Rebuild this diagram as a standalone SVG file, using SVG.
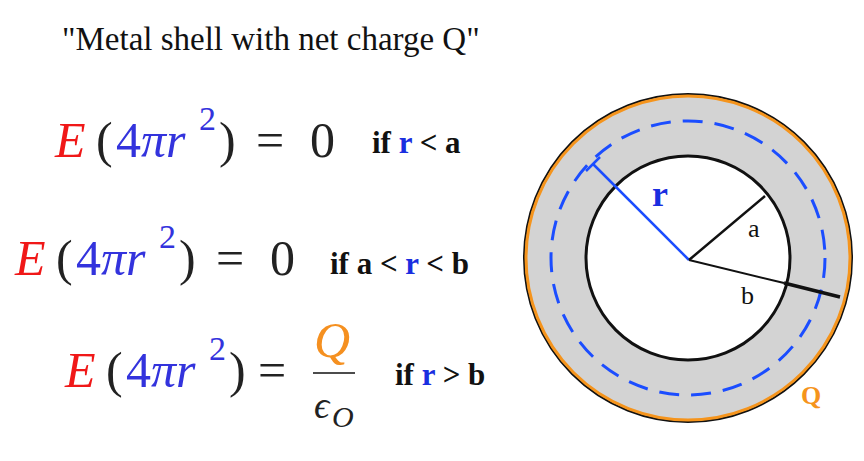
<svg xmlns="http://www.w3.org/2000/svg" width="864" height="461" viewBox="0 0 864 461">
<style>
text{font-family:"Liberation Serif","DejaVu Serif",serif}
.m{font-size:50px}
.s{font-size:34px}
.e{fill:#f01818;font-style:italic}
.b{fill:#3333dd}
.i{fill:#3333dd;font-style:italic}
.k{fill:#222}
.c{font-size:31px;font-weight:bold;fill:#111}
.bl{fill:#1a2ee0}
</style>
<rect width="864" height="461" fill="#fff"/>
<text x="62" y="50" font-size="33" fill="#111">"Metal shell with net charge Q"</text>
<g id="eq1">
<text x="55" y="157" class="m e">E</text>
<text x="96" y="157" class="m k">(</text>
<text x="116" y="157" class="m b">4</text>
<text x="141" y="157" class="m i">πr</text>
<text x="199" y="130" class="s b">2</text>
<text x="219" y="157" class="m k">)</text>
<text x="256" y="157" class="m k">=</text>
<text x="310" y="157" class="m k">0</text>
<text x="372" y="153" class="c">if <tspan class="bl">r</tspan> &lt; a</text>
</g>
<g id="eq2">
<text x="15" y="275" class="m e">E</text>
<text x="56" y="275" class="m k">(</text>
<text x="76" y="275" class="m b">4</text>
<text x="101" y="275" class="m i">πr</text>
<text x="159" y="248" class="s b">2</text>
<text x="179" y="275" class="m k">)</text>
<text x="216" y="275" class="m k">=</text>
<text x="270" y="275" class="m k">0</text>
<text x="330" y="274" class="c">if a &lt; <tspan class="bl">r</tspan> &lt; b</text>
</g>
<g id="eq3">
<text x="65" y="387" class="m e">E</text>
<text x="106" y="387" class="m k">(</text>
<text x="126" y="387" class="m b">4</text>
<text x="151" y="387" class="m i">πr</text>
<text x="209" y="360" class="s b">2</text>
<text x="229" y="387" class="m k">)</text>
<text x="258" y="387" class="m k">=</text>
<text x="314" y="357" class="m" fill="#f59020" font-style="italic">Q</text>
<line x1="313" y1="373" x2="355" y2="373" stroke="#111" stroke-width="1.5"/>
<text x="314" y="418" class="k" font-style="italic" font-size="38">ϵ</text>
<text x="332" y="427" class="k" font-style="italic" font-size="30">O</text>
<text x="395" y="385" class="c">if <tspan class="bl">r</tspan> &gt; b</text>
</g>
<g id="shell">
<circle cx="688" cy="258" r="164" fill="#d3d3d3" stroke="#111" stroke-width="2"/>
<circle cx="688" cy="258" r="162" fill="none" stroke="#f5941c" stroke-width="3"/>
<circle cx="688" cy="258" r="137" fill="none" stroke="#1b4dff" stroke-width="3" stroke-dasharray="20,12"/>
<circle cx="688" cy="258" r="102" fill="#fff" stroke="#111" stroke-width="3"/>
</g>
<g id="connectors">
<line x1="689" y1="260" x2="593" y2="164" stroke="#1b4dff" stroke-width="2.5"/>
<line x1="586" y1="171" x2="600" y2="157" stroke="#1b4dff" stroke-width="2.5"/>
<line x1="689" y1="260" x2="765" y2="196" stroke="#111" stroke-width="2.5"/>
<line x1="689" y1="260" x2="784" y2="283" stroke="#111" stroke-width="2"/>
<line x1="784" y1="283" x2="840" y2="297" stroke="#111" stroke-width="3.5"/>
</g>
<g id="labels">
<text x="652" y="206" font-size="36" font-weight="bold" fill="#1a2ee0">r</text>
<text x="748" y="237" font-size="26" fill="#111">a</text>
<text x="741" y="304" font-size="26" fill="#111">b</text>
<text x="801" y="404" font-size="26" font-weight="bold" fill="#f5941c">Q</text>
</g>
</svg>
